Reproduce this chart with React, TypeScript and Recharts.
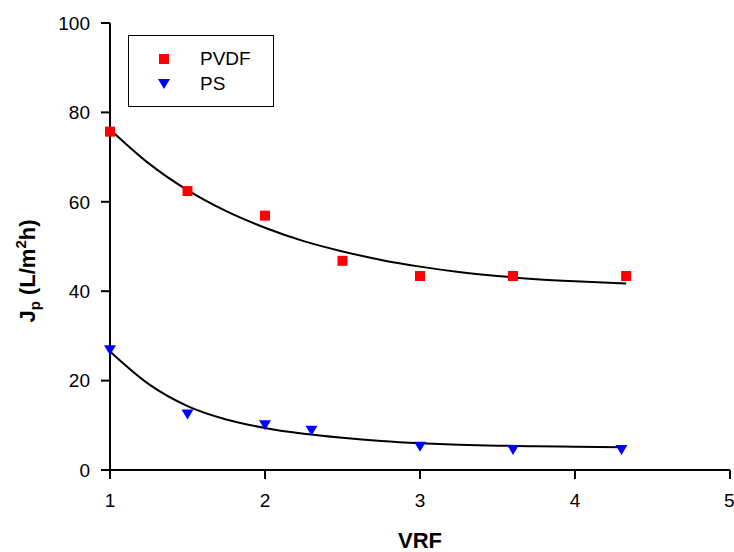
import { ComposedChart, Line, Scatter, XAxis, YAxis } from "recharts";

const FONT = "'Liberation Sans', Arial, sans-serif";

// measured points
const pvdfVrf = [1, 1.5, 2, 2.5, 3, 3.6, 4.33];
const pvdfFlux = [75.7, 62.4, 56.9, 46.8, 43.4, 43.4, 43.4];
const psVrf = [1, 1.5, 2, 2.3, 3, 3.6, 4.3];
const psFlux = [26.8, 12.4, 10.0, 8.8, 5.2, 4.5, 4.5];

// fitted curves
const pvdfFitVrf = [1, 1.25, 1.5, 1.75, 2, 2.25, 2.5, 2.75, 3, 3.25, 3.5, 3.75, 4, 4.33];
const pvdfFitFlux = [76.2, 68.6, 62.6, 57.9, 54.2, 51.2, 48.9, 47.0, 45.5, 44.3, 43.4, 42.7, 42.2, 41.7];
const psFitVrf = [1, 1.25, 1.5, 1.75, 2, 2.25, 2.5, 2.75, 3, 3.25, 3.5, 3.75, 4, 4.3];
const psFitFlux = [26.5, 19.2, 14.3, 11.3, 9.4, 8.1, 7.2, 6.5, 6.0, 5.65, 5.45, 5.3, 5.2, 5.1];

const xTicks = [1, 2, 3, 4, 5];
const yTicks = [0, 20, 40, 60, 80, 100];

const toPoints = (xs: number[], ys: number[]) => xs.map((x, i) => ({ x, y: ys[i] }));

const pvdfPoints = toPoints(pvdfVrf, pvdfFlux);
const psPoints = toPoints(psVrf, psFlux);
const pvdfFit = toPoints(pvdfFitVrf, pvdfFitFlux);
const psFit = toPoints(psFitVrf, psFitFlux);

const RedSquare = (props: any) => {
  const { cx, cy } = props;
  return <rect x={cx - 5} y={cy - 5} width={10} height={10} fill="#ff0000" />;
};

const BlueTriangle = (props: any) => {
  const { cx, cy } = props;
  return (
    <polygon
      points={`${cx - 6},${cy - 5} ${cx + 6},${cy - 5} ${cx},${cy + 5}`}
      fill="#0000ff"
    />
  );
};

const yLabel = () => (
  <text
    transform="translate(35, 271) rotate(-90)"
    textAnchor="middle"
    fontFamily={FONT}
    fontWeight="bold"
    fontSize={22}
    fill="#000"
  >
    J
    <tspan fontSize={15} dy={5}>p</tspan>
    <tspan dy={-5}> (L/m</tspan>
    <tspan fontSize={15} dy={-9}>2</tspan>
    <tspan dy={9}>h)</tspan>
  </text>
);

const xLabel = () => (
  <text x={420} y={548} textAnchor="middle" fontFamily={FONT} fontWeight="bold" fontSize={22} fill="#000">
    VRF
  </text>
);

const axisStyle = { stroke: "#000", strokeWidth: 2 };
const tickStyle = { fill: "#000", fontSize: 19, fontFamily: FONT };

export default function App() {
  return (
    <div style={{ position: "absolute", left: 0, top: 0, width: 734, height: 552, background: "#fff" }}>
      <ComposedChart width={734} height={552} margin={{ top: 23, right: 4, bottom: 0, left: 0 }}>
        <XAxis
          type="number"
          dataKey="x"
          domain={[1, 5]}
          ticks={xTicks}
          height={82}
          axisLine={axisStyle}
          tickLine={axisStyle}
          tickSize={9}
          tickMargin={15}
          tick={tickStyle}
          label={{ content: xLabel }}
        />
        <YAxis
          type="number"
          domain={[0, 100]}
          ticks={yTicks}
          width={110}
          axisLine={axisStyle}
          tickLine={axisStyle}
          tickSize={9}
          tickMargin={11}
          tick={tickStyle}
          label={{ content: yLabel }}
        />
        <Line data={pvdfFit} dataKey="y" type="monotone" stroke="#000" strokeWidth={2} dot={false} isAnimationActive={false} />
        <Line data={psFit} dataKey="y" type="monotone" stroke="#000" strokeWidth={2} dot={false} isAnimationActive={false} />
        <Scatter data={pvdfPoints} dataKey="y" shape={RedSquare} isAnimationActive={false} />
        <Scatter data={psPoints} dataKey="y" shape={BlueTriangle} isAnimationActive={false} />
      </ComposedChart>
      <div
        style={{
          position: "absolute",
          left: 128,
          top: 35,
          width: 144,
          height: 70,
          border: "1px solid #000",
          fontFamily: FONT,
          fontSize: 19,
          color: "#000",
        }}
      >
        <svg width={144} height={70} style={{ position: "absolute", left: 0, top: 0 }}>
          <rect x={30} y={18} width={10} height={10} fill="#ff0000" />
          <polygon points="29,43 41,43 35,53" fill="#0000ff" />
        </svg>
        <div style={{ position: "absolute", left: 71, top: 12, lineHeight: "22px" }}>PVDF</div>
        <div style={{ position: "absolute", left: 71, top: 37, lineHeight: "22px" }}>PS</div>
      </div>
    </div>
  );
}
